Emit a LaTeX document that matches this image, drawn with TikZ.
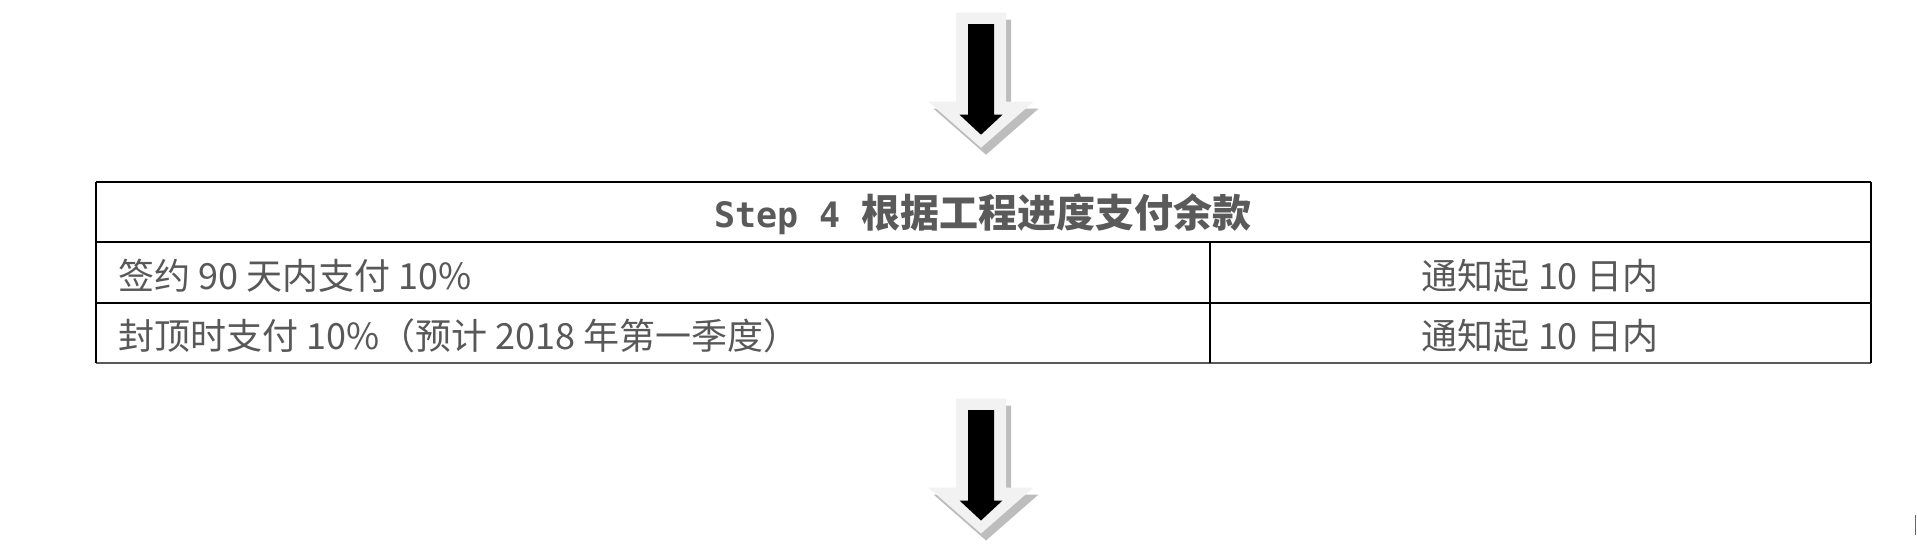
\documentclass[tikz,border=0pt]{standalone}
\usepackage{fontspec}
\setmainfont{Noto Sans CJK SC}
\newfontfamily\cjkfont{Noto Sans CJK SC}
\newfontfamily\monofont{DejaVu Sans Mono}
\definecolor{txtgray}{HTML}{585858}
\definecolor{headgray}{HTML}{5A5A5A}
\definecolor{arrowfill}{HTML}{F2F2F2}
\definecolor{arrowshadow}{HTML}{BDBDBD}
\tikzset{
  gridline/.style={draw=black, line width=2.4pt},
  bodytext/.style={inner sep=0pt, text=txtgray, font=\cjkfont\fontsize{36}{40}\selectfont},
  headtext/.style={inner sep=0pt, text=headgray, font=\cjkfont\bfseries\fontsize{39}{42}\selectfont},
  bigarrow/.pic={
    % shadow
    \fill[arrowshadow] (-25+5,0+7) -- (25+5,0+7) -- (25+5,89+7) -- (52.5+5,89+7) -- (0+5,135+7) -- (-52.5+5,89+7) -- (-25+5,89+7) -- cycle;
    % light outer arrow
    \fill[arrowfill] (-25,0) -- (25,0) -- (25,89) -- (52.5,89) -- (0,135) -- (-52.5,89) -- (-25,89) -- cycle;
    % black inner arrow
    \fill[black] (-13,11.5) -- (13,11.5) -- (13,102) -- (21.5,102) -- (0,122) -- (-21.5,102) -- (-13,102) -- cycle;
  }
}
\begin{document}
\begin{tikzpicture}[x=1pt,y=-1pt]
\useasboundingbox[fill=white] (0,0) rectangle (1917,553);

% arrows
\pic at (981,12.7) {bigarrow};
\pic at (981,398.5) {bigarrow};

% table corners
\coordinate (tl) at (95.7,182.3);
\coordinate (tr) at (1870.7,182.3);
\coordinate (hl) at (95.7,242.3);
\coordinate (hr) at (1870.7,242.3);
\coordinate (r1l) at (95.7,303.3);
\coordinate (r1r) at (1870.7,303.3);
\coordinate (bl) at (95.7,362.7);
\coordinate (br) at (1870.7,362.7);
\coordinate (dtop) at (1209.7,242.3);
\coordinate (dbot) at (1209.7,362.7);

% grid
\draw[gridline] (tl) -- (tr);
\draw[gridline] (hl) -- (hr);
\draw[gridline] (r1l) -- (r1r);
\draw[gridline, draw=black!65] (bl) -- (br);
\draw[gridline] (tl) -- (bl);
\draw[gridline] (tr) -- (br);
\draw[gridline] (dtop) -- (dbot);

% texts
\node[headtext] (head) at (983,214) {{\monofont\fontsize{35}{40}\selectfont Step 4 }根据工程进度支付余款};
\node[bodytext, anchor=west] (r1a) at (118,276) {签约 90 天内支付 10\%};
\node[bodytext] (r1b) at (1540,276) {通知起 10 日内};
\node[bodytext, anchor=west] (r2a) at (118,336) {封顶时支付 10\%（预计 2018 年第一季度）};
\node[bodytext] (r2b) at (1540,336) {通知起 10 日内};

% small mark at right edge
\coordinate (m1) at (1915.5,515);
\coordinate (m2) at (1915.5,535);
\draw[line width=1.5pt, draw=black!60] (m1) -- (m2);
\end{tikzpicture}
\end{document}
